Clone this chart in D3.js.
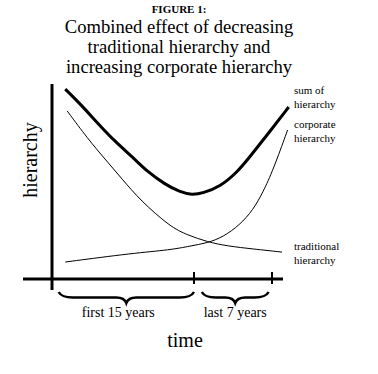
<!DOCTYPE html>
<html>
<head>
<meta charset="utf-8">
<script src="https://cdn.jsdelivr.net/npm/d3@7"></script>
<style>
  body { margin: 0; background: #fff; }
  text { font-family: "Liberation Serif", "Times New Roman", serif; fill: #000; }
</style>
</head>
<body>
<div id="chart"></div>
<script>
// title lines
var titleHead = "FIGURE 1:";
var titleLines = ["Combined effect of decreasing", "traditional hierarchy and", "increasing corporate hierarchy"];

// time ticks (years) and brace labels
var tickYears = [15, 22];
var periods = [
  {label: "first 15 years", from: 0.7, to: 15, labelAt: 7.0},
  {label: "last 7 years", from: 15.7, to: 21.7, labelAt: 18.7}
];

// curves: [year, hierarchy level 0-100]
var sumHierarchy = [[1.4, 97.4], [3.0, 89.7], [4.9, 79.5], [6.7, 70.3], [8.5, 62.6], [10.1, 54.9],
                    [11.9, 48.7], [13.5, 44.6], [14.8, 43.1], [15.8, 44.1], [17.3, 47.2],
                    [18.9, 54.9], [20.0, 62.6], [21.8, 75.6], [23.5, 88.2]];
var tradHierarchy = [[1.6, 86.2], [3.8, 71.8], [5.6, 61.5], [7.4, 51.3], [9.3, 40.5], [12.5, 26.7],
                     [14.3, 22.6], [16.2, 19.0], [18.0, 16.9], [20.3, 15.4], [22.9, 13.8]];
var corpHierarchy = [[1.4, 8.7], [8.6, 13.3], [12.5, 14.9], [14.6, 16.9], [16.2, 18.5], [17.6, 21.5],
                     [19.1, 27.7], [20.3, 35.4], [21.2, 44.6], [22.1, 55.9], [23.4, 76.4]];

var curveLabels = [
  {lines: ["sum of", "hierarchy"], y: 94},
  {lines: ["corporate", "hierarchy"], y: 128},
  {lines: ["traditional", "hierarchy"], y: 250}
];

var width = 378, height = 374;

var svg = d3.select("#chart")
  .append("svg")
    .attr("width", width)
    .attr("height", height);

// scales: the time axis is not to scale, first 15 years get less room per year
var x = d3.scaleLinear()
  .domain([0, 15, 22])
  .range([52, 194, 272]);

var y = d3.scaleLinear()
  .domain([0, 100])
  .range([279, 84]);

// title
svg.append("text")
  .attr("x", 179).attr("y", 13)
  .attr("text-anchor", "middle")
  .style("font-size", "11px").style("font-weight", "bold")
  .text(titleHead);

svg.selectAll(".title")
  .data(titleLines)
  .enter().append("text")
    .attr("class", "title")
    .attr("x", 179)
    .attr("y", function(d, i) { return 33 + i * 20; })
    .attr("text-anchor", "middle")
    .style("font-size", "18.6px")
    .text(function(d) { return d; });

// axes
svg.append("line")
  .attr("x1", x(0)).attr("x2", x(0))
  .attr("y1", y(100)).attr("y2", y(0) + 11)
  .attr("stroke", "#000").attr("stroke-width", 3);

svg.append("line")
  .attr("x1", x(0) - 29).attr("x2", x(22) + 11)
  .attr("y1", y(0)).attr("y2", y(0))
  .attr("stroke", "#000").attr("stroke-width", 3);

svg.selectAll(".tick")
  .data(tickYears)
  .enter().append("line")
    .attr("x1", function(d) { return x(d); })
    .attr("x2", function(d) { return x(d); })
    .attr("y1", y(0) - 7).attr("y2", y(0) + 5)
    .attr("stroke", "#000").attr("stroke-width", 2);

// axis titles
svg.append("text")
  .attr("transform", "translate(37," + y(61) + ") rotate(-90)")
  .attr("text-anchor", "middle")
  .style("font-size", "20px")
  .text("hierarchy");

svg.append("text")
  .attr("x", 185).attr("y", 347)
  .attr("text-anchor", "middle")
  .style("font-size", "20px")
  .text("time");

// curves
var line = d3.line()
  .x(function(d) { return x(d[0]); })
  .y(function(d) { return y(d[1]); })
  .curve(d3.curveBasis);

svg.append("path")
  .datum(tradHierarchy)
  .attr("d", line)
  .attr("fill", "none").attr("stroke", "#000").attr("stroke-width", 1);

svg.append("path")
  .datum(corpHierarchy)
  .attr("d", line)
  .attr("fill", "none").attr("stroke", "#000").attr("stroke-width", 1);

svg.append("path")
  .datum(sumHierarchy)
  .attr("d", line)
  .attr("fill", "none").attr("stroke", "#000").attr("stroke-width", 3);

// curve labels
curveLabels.forEach(function(c) {
  var t = svg.append("text")
    .attr("x", 294).attr("y", c.y)
    .style("font-size", "11px");
  c.lines.forEach(function(s, i) {
    t.append("tspan").attr("x", 294).attr("dy", i ? 14 : 0).text(s);
  });
});

// curly braces under the time axis
function brace(x1, x2, top, depth) {
  var m = (x1 + x2) / 2, h = depth * 0.5;
  return "M" + x1 + "," + top +
    " Q" + (x1 + 3) + "," + (top + h) + " " + (x1 + 14) + "," + (top + h) +
    " L" + (m - 10) + "," + (top + h) +
    " Q" + (m - 2) + "," + (top + h) + " " + m + "," + (top + depth) +
    " Q" + (m + 2) + "," + (top + h) + " " + (m + 10) + "," + (top + h) +
    " L" + (x2 - 14) + "," + (top + h) +
    " Q" + (x2 - 3) + "," + (top + h) + " " + x2 + "," + top;
}

svg.selectAll(".brace")
  .data(periods)
  .enter().append("path")
    .attr("class", "brace")
    .attr("d", function(d) { return brace(x(d.from), x(d.to), 292, 11); })
    .attr("fill", "none").attr("stroke", "#000").attr("stroke-width", 2.5);

svg.selectAll(".period")
  .data(periods)
  .enter().append("text")
    .attr("class", "period")
    .attr("x", function(d) { return x(d.labelAt); })
    .attr("y", 317)
    .attr("text-anchor", "middle")
    .style("font-size", "14px")
    .text(function(d) { return d.label; });
</script>
</body>
</html>
